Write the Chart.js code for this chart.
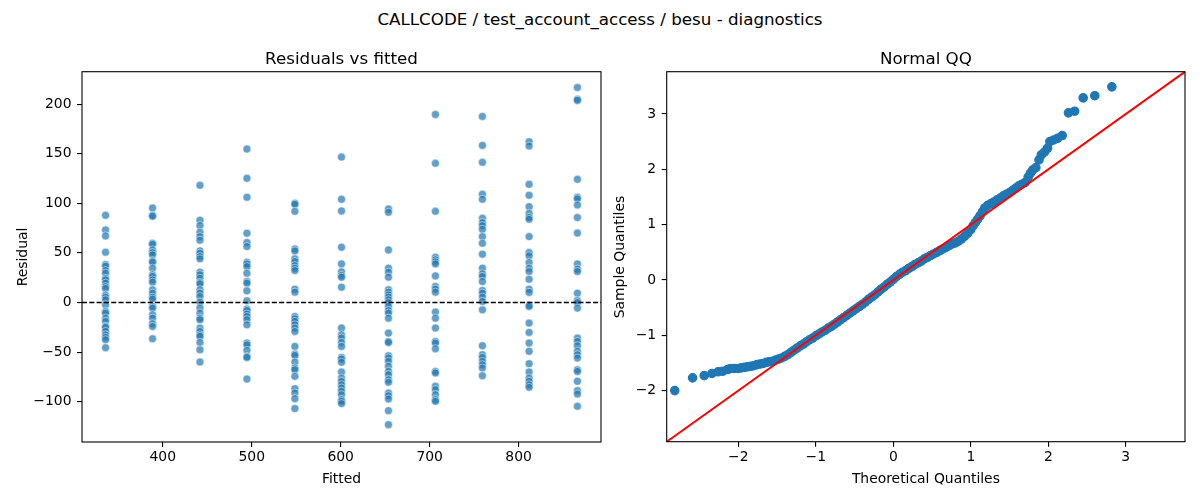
<!DOCTYPE html>
<html><head><meta charset="utf-8">
<script src="https://cdn.jsdelivr.net/npm/chart.js@4.4.1/dist/chart.umd.min.js"></script>
<style>
html,body{margin:0;padding:0;background:#fff;}
#wrap{position:relative;width:1200px;height:500px;overflow:hidden;font-family:'DejaVu Sans',sans-serif;color:#000;background:#fff;}
.t{position:absolute;white-space:nowrap;text-align:center;}
.r{transform:rotate(-90deg);transform-origin:50% 50%;}
canvas{position:absolute;}
</style></head><body>
<div id="wrap">
<canvas id="c1" width="620" height="460" style="left:0;top:40px;width:620px;height:460px"></canvas>
<canvas id="c2" width="580" height="460" style="left:620px;top:40px;width:580px;height:460px"></canvas>
<div class="t" style="left:300px;width:600px;top:8.7px;font-size:16.7px;line-height:20px">CALLCODE / test_account_access / besu - diagnostics</div>
<div class="t" style="left:141.5px;width:400px;top:47.6px;font-size:16.7px;line-height:20px">Residuals vs fitted</div>
<div class="t" style="left:725.9px;width:400px;top:47.6px;font-size:16.7px;line-height:20px">Normal QQ</div>
<div class="t" style="left:241.5px;width:200px;top:469.7px;font-size:13.9px;line-height:16px">Fitted</div>
<div class="t" style="left:825.9px;width:200px;top:469.7px;font-size:13.9px;line-height:16px">Theoretical Quantiles</div>
<div class="t r" style="left:-78.1px;width:200px;top:248.9px;height:16px;font-size:13.9px;line-height:16px">Residual</div>
<div class="t r" style="left:519.2px;width:200px;top:248.9px;height:16px;font-size:13.9px;line-height:16px">Sample Quantiles</div>
</div>
<script>
// ---------- Residuals vs fitted ----------
const fittedLevels = [335.7, 388.5, 441.8, 494.6, 548.5, 600.9, 653.7, 706.5, 759.3, 811.8, 866.1];
const res1 = [87.9, 73.2, 67.1, 50.7, 38.3, 36.6, 32.2, 29.5, 24.2, 22.8, 19.5, 16.1, 14.1, 7.4, 5.4, 2.7, -2.3, -9.1, -10.7, -15.8, -19.1, -24.2, -25.2, -29.2, -32.6, -35.2, -37.6, -45.6];
const res2 = [95.3, 87.9, 86.9, 59.7, 58.7, 53.0, 50.3, 48.0, 41.9, 40.6, 34.6, 27.9, 26.2, 22.8, 20.5, 12.8, 9.4, 5.4, 3.4, -4.0, -5.7, -12.4, -15.8, -21.5, -24.2, -36.6];
const res3 = [118.1, 82.9, 77.5, 70.8, 66.4, 62.8, 52.0, 49.7, 46.3, 44.0, 30.5, 27.9, 24.5, 20.1, 18.8, 12.8, 9.4, 6.0, 0.3, -5.7, -10.7, -15.8, -17.4, -25.8, -29.2, -32.6, -34.2, -40.3, -47.7, -60.1];
const res4 = [154.7, 125.2, 106.0, 69.8, 60.4, 56.4, 40.6, 38.9, 36.2, 29.5, 21.1, 19.5, 11.7, 1.7, -6.7, -8.1, -11.7, -14.1, -17.4, -22.5, -40.9, -42.6, -48.3, -54.4, -55.4, -77.2];
const res5 = [100.0, 99.0, 91.9, 54.0, 52.0, 44.0, 41.3, 37.2, 34.6, 32.2, 13.4, 10.4, -14.1, -16.4, -19.1, -22.5, -25.8, -29.2, -44.3, -52.0, -53.4, -60.1, -66.1, -67.8, -74.5, -86.9, -91.3, -97.0, -107.0];
const res6 = [146.6, 104.0, 92.3, 55.7, 38.9, 30.9, 27.2, 25.5, 15.4, -25.8, -32.6, -35.9, -40.3, -44.3, -55.4, -57.0, -60.4, -70.2, -76.2, -79.6, -82.9, -86.2, -89.6, -93.0, -98.0, -99.7, -102.0];
const res7 = [94.3, 90.9, 53.0, 34.6, 30.5, 25.5, 12.8, 10.4, 7.7, 5.4, 2.7, 0.0, -4.0, -8.1, -10.7, -15.8, -30.9, -39.3, -40.3, -53.7, -56.0, -59.4, -64.4, -69.5, -72.8, -77.9, -80.5, -91.3, -94.0, -97.3, -109.1, -123.2];
const res8 = [189.6, 140.3, 91.9, 45.6, 43.0, 40.9, 38.9, 26.8, 16.1, 13.4, 10.4, -9.7, -15.8, -25.8, -39.3, -40.9, -46.6, -69.5, -71.1, -84.6, -87.9, -93.0, -98.0, -99.7];
const res9 = [187.6, 158.4, 141.3, 109.1, 104.0, 84.9, 80.5, 77.5, 73.8, 66.4, 59.7, 48.7, 34.6, 28.9, 26.2, 21.1, 12.1, 9.4, 5.4, 1.0, -7.4, -43.6, -52.7, -55.4, -59.4, -62.8, -66.1, -73.8];
const res10 = [162.1, 157.7, 119.1, 108.1, 96.6, 89.9, 85.9, 83.9, 66.4, 50.3, 47.0, 40.3, 34.6, 31.2, 23.5, 13.4, 10.1, -2.7, -4.0, -20.8, -30.2, -40.9, -49.3, -61.7, -70.1, -76.2, -79.5, -82.9, -85.6];
const res11 = [216.8, 205.0, 203.7, 124.2, 106.0, 104.4, 98.3, 85.6, 70.1, 38.9, 33.6, 31.2, 9.4, 2.0, 0.0, -5.7, -35.9, -39.3, -43.6, -49.3, -52.7, -56.0, -67.8, -69.5, -79.5, -88.9, -92.3, -104.7];
const residualsByLevel = [res1, res2, res3, res4, res5, res6, res7, res8, res9, res10, res11];

const leftXRange = [309.2, 892.6];
const leftYRange = [-140.7, 232.7];
const leftXTicks = [400, 500, 600, 700, 800];
const leftXTickLabels = ['400', '500', '600', '700', '800'];
const leftYTicks = [-100, -50, 0, 50, 100, 150, 200];
const leftYTickLabels = ['\u2212100', '\u221250', '0', '50', '100', '150', '200'];

// ---------- Normal QQ ----------
const qqTheoretical = [-2.82,-2.59,-2.44,-2.34,-2.26,-2.20,-2.14,-2.10,-2.05,-2.00,-1.96,-1.92,-1.88,-1.84,-1.80,-1.76,-1.72,-1.68,-1.64,-1.60,-1.56,-1.52,-1.48,-1.44,-1.40,-1.36,-1.32,-1.28,-1.24,-1.20,-1.16,-1.12,-1.08,-1.04,-1.00,-0.96,-0.92,-0.88,-0.84,-0.80,-0.76,-0.72,-0.68,-0.64,-0.60,-0.56,-0.52,-0.48,-0.44,-0.40,-0.36,-0.32,-0.28,-0.24,-0.20,-0.16,-0.12,-0.08,-0.04,0.00,0.04,0.08,0.12,0.16,0.20,0.24,0.28,0.32,0.36,0.40,0.44,0.48,0.52,0.56,0.60,0.64,0.68,0.72,0.76,0.80,0.84,0.88,0.92,0.96,1.00,1.03,1.06,1.09,1.12,1.15,1.18,1.22,1.26,1.30,1.34,1.38,1.42,1.46,1.50,1.54,1.58,1.62,1.66,1.70,1.74,1.77,1.80,1.84,1.88,1.91,1.95,1.99,2.02,2.07,2.12,2.18,2.26,2.34,2.45,2.60,2.82];
const qqSample = [-2.00,-1.77,-1.73,-1.69,-1.66,-1.65,-1.62,-1.60,-1.60,-1.60,-1.59,-1.58,-1.57,-1.56,-1.55,-1.53,-1.52,-1.51,-1.49,-1.48,-1.47,-1.45,-1.43,-1.41,-1.38,-1.35,-1.31,-1.27,-1.23,-1.19,-1.16,-1.12,-1.08,-1.05,-1.01,-0.98,-0.94,-0.91,-0.87,-0.84,-0.80,-0.76,-0.72,-0.68,-0.64,-0.60,-0.56,-0.52,-0.48,-0.44,-0.40,-0.35,-0.31,-0.27,-0.22,-0.17,-0.13,-0.08,-0.04,0.01,0.06,0.10,0.14,0.17,0.21,0.24,0.28,0.31,0.34,0.38,0.41,0.44,0.47,0.50,0.53,0.56,0.59,0.62,0.65,0.67,0.70,0.74,0.79,0.84,0.91,0.98,1.04,1.10,1.16,1.23,1.30,1.35,1.38,1.41,1.45,1.48,1.52,1.55,1.58,1.62,1.66,1.70,1.73,1.76,1.86,1.93,1.99,2.03,2.17,2.26,2.31,2.38,2.50,2.53,2.56,2.61,3.02,3.05,3.29,3.33,3.49];
const qqRange = [-2.924, 3.764];
const qqTicks = [-2, -1, 0, 1, 2, 3];
const qqTickLabels = ['\u22122', '\u22121', '0', '1', '2', '3'];

// ---------- drawing ----------
Chart.defaults.font.family = "'DejaVu Sans', sans-serif";
Chart.defaults.color = '#000';

const framePlugin = {
  id: 'frame',
  afterDraw(chart) {
    const {ctx, chartArea: a} = chart;
    ctx.save();
    ctx.strokeStyle = '#000';
    ctx.lineWidth = 1.1;
    ctx.strokeRect(a.left, a.top, a.right - a.left, a.bottom - a.top);
    ctx.restore();
  }
};

function axis(range, tickVals, tickLabels, isX, size, pad) {
  return {
    type: 'linear',
    position: isX ? 'bottom' : 'left',
    min: range[0], max: range[1],
    afterBuildTicks: s => { s.ticks = tickVals.map(v => ({value: v})); },
    afterFit: s => { if (isX) s.height = size; else s.width = size; },
    ticks: { callback: (v, i) => tickLabels[i], font: {size: 13.9}, padding: pad, color: '#000', autoSkip: false, maxRotation: 0 },
    grid: { display: true, drawOnChartArea: false, drawTicks: true, tickLength: 5, color: '#000', lineWidth: 1.1 },
    border: { display: false },
    title: { display: false }
  };
}

const residualPoints = [];
residualsByLevel.forEach((arr, i) => arr.forEach(r => residualPoints.push({x: fittedLevels[i], y: r})));

new Chart(document.getElementById('c1'), {
  type: 'scatter',
  data: { datasets: [
    { type: 'line', data: [{x: leftXRange[0], y: 0}, {x: leftXRange[1], y: 0}], borderColor: '#000', borderWidth: 1.4, borderDash: [5.1, 2.2], pointRadius: 0, fill: false, order: 0 },
    { data: residualPoints, backgroundColor: 'rgba(31,119,180,0.7)', borderColor: 'rgba(255,255,255,0.7)', borderWidth: 0.7, pointRadius: 4, pointHoverRadius: 4, order: 1 }
  ]},
  options: {
    responsive: false, animation: false,
    layout: { padding: { top: 31.7, right: 19, bottom: 0, left: 0 } },
    plugins: { legend: { display: false }, tooltip: { enabled: false } },
    scales: {
      x: axis(leftXRange, leftXTicks, leftXTickLabels, true, 58, 2.5),
      y: axis(leftYRange, leftYTicks, leftYTickLabels, false, 82, 5.5)
    }
  },
  plugins: [framePlugin]
});

const qqPoints = qqTheoretical.map((t, i) => ({x: t, y: qqSample[i]}));

new Chart(document.getElementById('c2'), {
  type: 'scatter',
  data: { datasets: [
    { type: 'line', data: [{x: qqRange[0], y: qqRange[0]}, {x: qqRange[1], y: qqRange[1]}], borderColor: '#ff0000', borderWidth: 2, pointRadius: 0, fill: false, order: 0 },
    { data: qqPoints, backgroundColor: '#1f77b4', borderColor: '#1f77b4', borderWidth: 1.2, pointRadius: 4.2, pointHoverRadius: 4.2, order: 1 }
  ]},
  options: {
    responsive: false, animation: false,
    layout: { padding: { top: 31.7, right: 15, bottom: 0, left: 0 } },
    plugins: { legend: { display: false }, tooltip: { enabled: false } },
    scales: {
      x: axis(qqRange, qqTicks, qqTickLabels, true, 58.3, 2.5),
      y: axis(qqRange, qqTicks, qqTickLabels, false, 46.7, 5.5)
    }
  },
  plugins: [framePlugin]
});
</script>
</body></html>
